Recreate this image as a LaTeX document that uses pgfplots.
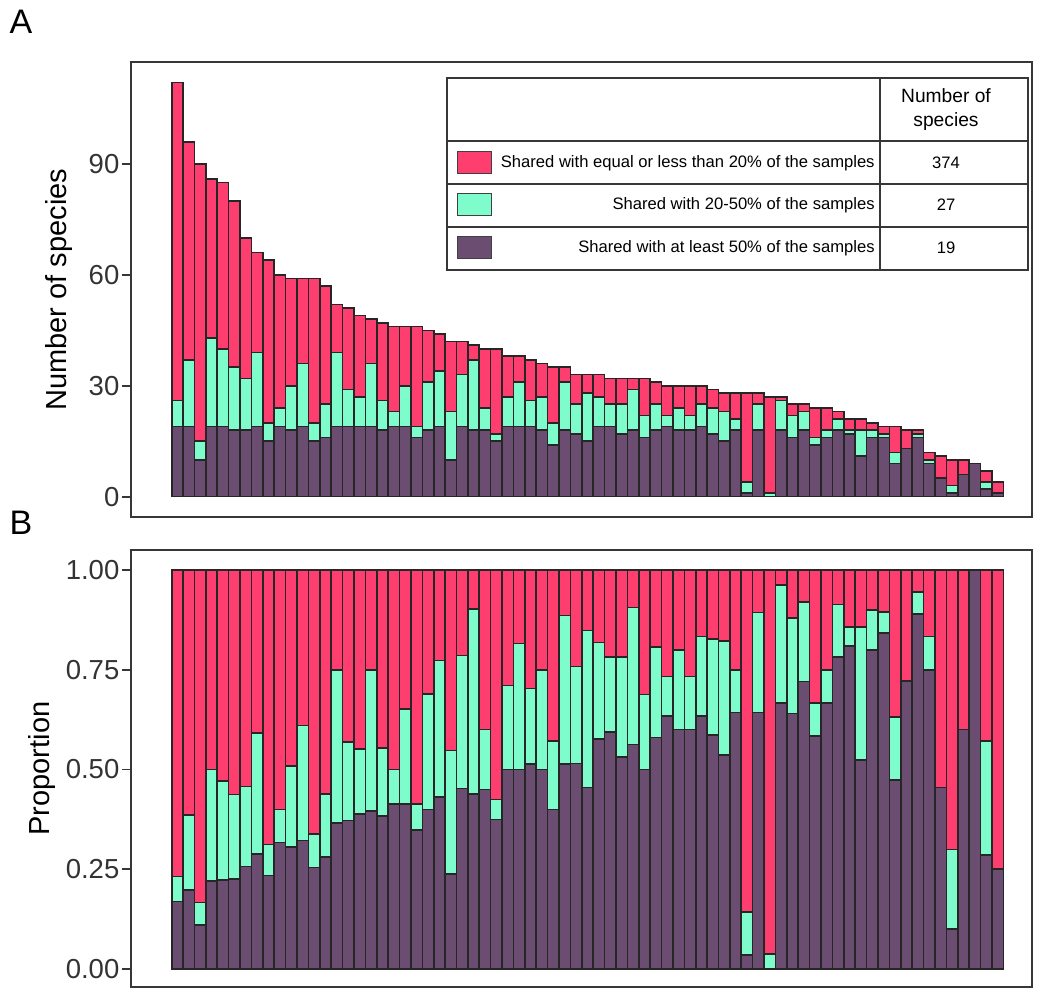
\documentclass[border=0pt]{standalone}
\usepackage{fontspec}
\setmainfont{Liberation Sans}
\usepackage{pgfplots}
\pgfplotsset{compat=1.18}
\usepackage{pgfplotstable}

\definecolor{cred}{RGB}{255,62,112}
\definecolor{cgreen}{RGB}{127,252,204}
\definecolor{cpurple}{RGB}{107,77,113}
\definecolor{cframe}{RGB}{55,55,55}

% counts per sample: p = shared with >=50%, g = 20-50%, r = <=20%
\pgfplotstableread{
i p g r
0 19 7 86
1 19 18 59
2 10 5 75
3 19 24 43
4 19 21 45
5 18 17 45
6 18 14 38
7 19 20 27
8 15 5 44
9 19 5 36
10 18 12 29
11 19 17 23
12 15 5 39
13 16 9 32
14 19 20 13
15 19 10 22
16 19 8 22
17 19 17 12
18 18 8 21
19 19 4 23
20 19 11 16
21 16 3 27
22 18 13 14
23 19 15 10
24 10 13 19
25 19 14 9
26 18 19 4
27 18 6 16
28 15 2 23
29 19 8 11
30 19 12 7
31 19 7 11
32 18 9 9
33 14 6 15
34 18 13 4
35 17 8 8
36 15 13 5
37 19 8 6
38 19 6 7
39 17 8 7
40 18 11 3
41 16 6 10
42 18 7 6
43 19 3 8
44 18 6 6
45 18 4 8
46 19 6 5
47 17 7 5
48 15 8 5
49 18 3 7
50 1 3 24
51 18 7 3
52 0 1 26
53 18 8 1
54 16 6 3
55 18 5 2
56 14 2 8
57 16 2 6
58 18 3 2
59 17 1 3
60 11 7 3
61 16 2 2
62 16 1 2
63 9 3 7
64 13 0 5
65 16 1 1
66 9 1 2
67 5 0 6
68 1 2 7
69 6 0 4
70 9 0 0
71 2 2 3
72 1 0 3
}\countdata

% proportions per sample
\pgfplotstableread{
i p g r
0 0.1696 0.0625 0.7679
1 0.1979 0.1875 0.6146
2 0.1111 0.0556 0.8333
3 0.2209 0.2791 0.5000
4 0.2235 0.2471 0.5294
5 0.2250 0.2125 0.5625
6 0.2571 0.2000 0.5429
7 0.2879 0.3030 0.4091
8 0.2344 0.0781 0.6875
9 0.3167 0.0833 0.6000
10 0.3051 0.2034 0.4915
11 0.3220 0.2881 0.3898
12 0.2542 0.0847 0.6610
13 0.2807 0.1579 0.5614
14 0.3654 0.3846 0.2500
15 0.3725 0.1961 0.4314
16 0.3878 0.1633 0.4490
17 0.3958 0.3542 0.2500
18 0.3830 0.1702 0.4468
19 0.4130 0.0870 0.5000
20 0.4130 0.2391 0.3478
21 0.3478 0.0652 0.5870
22 0.4000 0.2889 0.3111
23 0.4318 0.3409 0.2273
24 0.2381 0.3095 0.4524
25 0.4524 0.3333 0.2143
26 0.4390 0.4634 0.0976
27 0.4500 0.1500 0.4000
28 0.3750 0.0500 0.5750
29 0.5000 0.2105 0.2895
30 0.5000 0.3158 0.1842
31 0.5135 0.1892 0.2973
32 0.5000 0.2500 0.2500
33 0.4000 0.1714 0.4286
34 0.5143 0.3714 0.1143
35 0.5152 0.2424 0.2424
36 0.4545 0.3939 0.1515
37 0.5758 0.2424 0.1818
38 0.5938 0.1875 0.2188
39 0.5313 0.2500 0.2188
40 0.5625 0.3438 0.0938
41 0.5000 0.1875 0.3125
42 0.5806 0.2258 0.1935
43 0.6333 0.1000 0.2667
44 0.6000 0.2000 0.2000
45 0.6000 0.1333 0.2667
46 0.6333 0.2000 0.1667
47 0.5862 0.2414 0.1724
48 0.5357 0.2857 0.1786
49 0.6429 0.1071 0.2500
50 0.0357 0.1071 0.8571
51 0.6429 0.2500 0.1071
52 0.0000 0.0370 0.9630
53 0.6667 0.2963 0.0370
54 0.6400 0.2400 0.1200
55 0.7200 0.2000 0.0800
56 0.5833 0.0833 0.3333
57 0.6667 0.0833 0.2500
58 0.7826 0.1304 0.0870
59 0.8095 0.0476 0.1429
60 0.5238 0.3333 0.1429
61 0.8000 0.1000 0.1000
62 0.8421 0.0526 0.1053
63 0.4737 0.1579 0.3684
64 0.7222 0.0000 0.2778
65 0.8889 0.0556 0.0556
66 0.7500 0.0833 0.1667
67 0.4545 0.0000 0.5455
68 0.1000 0.2000 0.7000
69 0.6000 0.0000 0.4000
70 1.0000 0.0000 0.0000
71 0.2857 0.2857 0.4286
72 0.2500 0.0000 0.7500
}\propdata

\pgfplotsset{
  panel/.style={
    scale only axis,
    width=450.65pt,
    ybar stacked,
    bar width=1,
    xmin=-4.1, xmax=75.02,
    xtick=\empty,
    ytick pos=left,
    tick align=outside,
    major tick length=4.5pt,
    axis line style={cframe, line width=0.9pt},
    ytick style={cframe, line width=0.9pt},
    /pgf/number format/assume math mode=true,
    yticklabel style={font=\fontsize{13.75}{16}\selectfont, text=black!80, inner sep=1pt},
    every axis plot/.append style={draw=black!85, line width=0.8pt},
  },
}

\newcommand\tabfont{\fontsize{8.3}{12}\selectfont}

\begin{document}
\begin{tikzpicture}
\path[use as bounding box] (0,0) rectangle (525pt,495.5pt);

% ---------- Panel A ----------
\begin{axis}[panel,
  at={(65.35pt,236.8pt)}, anchor=south west,
  height=227.75pt,
  ymin=-5.6, ymax=117.6,
  ytick={0,30,60,90},
  every axis y label/.style={at={(axis description cs:-0.079,0.5)}, rotate=90, anchor=center, font=\fontsize{14.5}{17}\selectfont},
  ylabel={Number of species},
]
\addplot[fill=cpurple] table[x=i,y=p]{\countdata};
\addplot[fill=cgreen] table[x=i,y=g]{\countdata};
\addplot[fill=cred] table[x=i,y=r]{\countdata};
\end{axis}

% ---------- Panel B ----------
\begin{axis}[panel,
  at={(65.35pt,2pt)}, anchor=south west,
  height=218.5pt,
  ymin=-0.045, ymax=1.05,
  ytick={0,0.25,0.5,0.75,1},
  yticklabel style={/pgf/number format/.cd, fixed, fixed zerofill, precision=2},
  every axis y label/.style={at={(axis description cs:-0.098,0.5)}, rotate=90, anchor=center, font=\fontsize{14.5}{17}\selectfont},
  ylabel={Proportion},
]
\addplot[fill=cpurple] table[x=i,y=p]{\propdata};
\addplot[fill=cgreen] table[x=i,y=g]{\propdata};
\addplot[fill=cred] table[x=i,y=r]{\propdata};
\end{axis}

% ---------- labels and legend table (pixel coordinates) ----------
\begin{scope}[x=0.5pt, y=-0.5pt, shift={(0,495.5pt)}]
  \node[font=\fontsize{17}{20}\selectfont] at (21,22) {A};
  \node[font=\fontsize{17}{20}\selectfont] at (21,523) {B};

  \draw[cframe, line width=0.75pt, fill=white] (447,78) rectangle (1028,270);
  \draw[cframe, line width=0.75pt] (880,78) -- (880,270);
  \draw[cframe, line width=0.75pt] (447,141) -- (1028,141);
  \draw[cframe, line width=0.75pt] (447,184) -- (1028,184);
  \draw[cframe, line width=0.75pt] (447,227) -- (1028,227);

  \filldraw[fill=cred, draw=black!75, line width=0.5pt] (457,152) rectangle (491,174);
  \filldraw[fill=cgreen, draw=black!75, line width=0.5pt] (457,194) rectangle (491,216);
  \filldraw[fill=cpurple, draw=black!75, line width=0.5pt] (457,237) rectangle (491,259);

  \node[anchor=east, font=\tabfont, inner sep=0pt] at (875,163) {Shared with equal or less than 20\% of the samples};
  \node[anchor=east, font=\tabfont, inner sep=0pt] at (875,205) {Shared with 20-50\% of the samples};
  \node[anchor=east, font=\tabfont, inner sep=0pt] at (875,248) {Shared with at least 50\% of the samples};

  \node[align=center, font=\fontsize{9.6}{12}\selectfont] at (946,110) {Number of\\species};
  \node[font=\tabfont] at (946,163) {374};
  \node[font=\tabfont] at (946,205) {27};
  \node[font=\tabfont] at (946,248) {19};
\end{scope}
\end{tikzpicture}
\end{document}
